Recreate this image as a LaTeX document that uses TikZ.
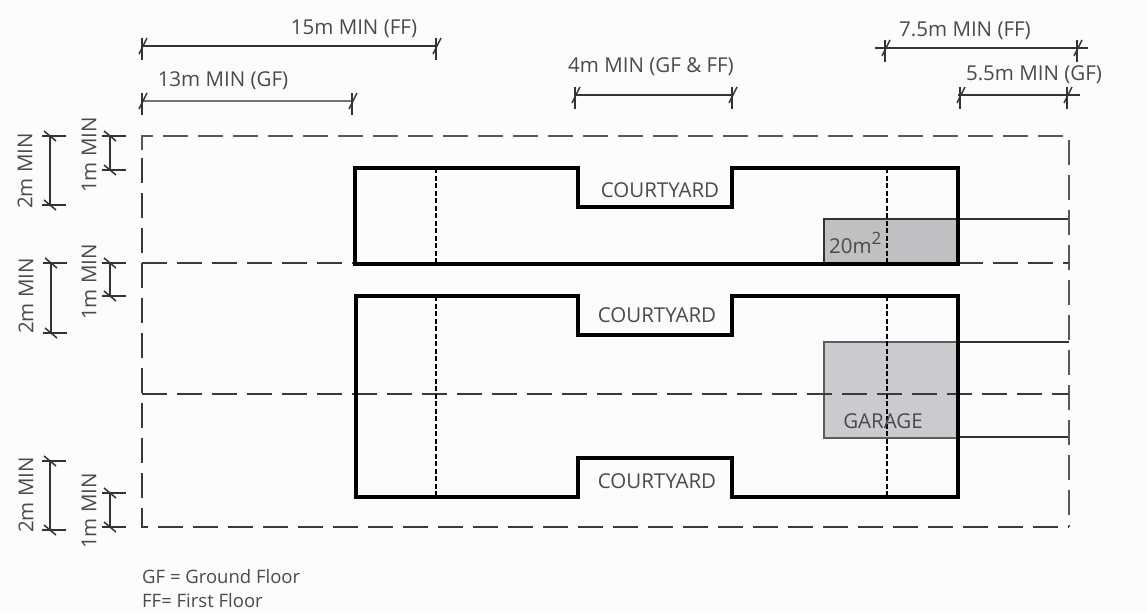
\documentclass[tikz,border=0pt]{standalone}
\usepackage{fontspec}
\setmainfont{Open Sans}
\definecolor{ink}{HTML}{333333}
\definecolor{txt}{HTML}{4A4A4A}
\definecolor{dashink}{HTML}{3A3A3A}
\definecolor{greyone}{HTML}{C0BFC1}
\definecolor{greytwo}{HTML}{CBCBCF}
\tikzset{
  x=1pt,y=-1pt,
  wall/.style={line width=4.4pt,black,line join=miter},
  bound/.style={line width=2pt,draw=dashink,dash pattern=on 25pt off 10pt},
  boundup/.style={bound,draw=dashink!85!white},
  grid/.style={line width=1.3pt,black,dash pattern=on 5pt off 2.5pt},
  setback/.style={line width=1.5pt,ink},
  dimline/.style={line width=1.5pt,ink},
  lab/.style={text=txt,font=\fontsize{20.5}{22}\selectfont,inner sep=0pt},
  legend/.style={text=txt,font=\fontsize{18.5}{20}\selectfont,inner sep=0pt,anchor=west},
}
\newcommand{\htick}[2]{%
  \draw[dimline] (#1-2,#2-8) -- (#1-2,#2+14);
  \draw[dimline] (#1-5,#2+8) -- (#1+3,#2-8);
}
\newcommand{\vtick}[2]{%
  \draw[dimline] (#1-8,#2) -- (#1+16,#2);
  \draw[dimline] (#1-6,#2-5) -- (#1+6,#2+5);
}
\begin{document}
\begin{tikzpicture}
\useasboundingbox (0,0) rectangle (1147,614);
\fill[white!99!black] (0,0) rectangle (1147,614);

% grey areas
\fill[greyone] (824,219) rectangle (958,264);
\fill[greytwo] (824,342) rectangle (958,438);
\draw[setback] (824,264) -- (824,219) -- (1069,219);
\draw[setback,draw=ink!80] (958,342) -- (824,342) -- (824,438) -- (958,438);
\draw[setback] (958,342) -- (1069,342);
\draw[setback] (958,437) -- (1069,437);

% boundary dashed lines
\draw[boundup] (142,150) -- (142,136) -- (1069,136) -- (1069,527);
\draw[bound] (142,158) -- (142,527) -- (1069,527);
\draw[bound] (142,263) -- (355,263);
\draw[bound] (958,263) -- (1069,263);
\draw[bound] (142,394) -- (1069,394);

% grid lines
\draw[grid] (436,168) -- (436,264);
\draw[grid] (887,168) -- (887,264);
\draw[grid] (436,296) -- (436,497);
\draw[grid] (887,296) -- (887,497);

% buildings
\draw[wall] (355,168) -- (578,168) -- (578,207) -- (732,207) -- (732,168) -- (958,168) -- (958,264) -- (355,264) -- cycle;
\draw[wall] (356,296) -- (578,296) -- (578,335) -- (732,335) -- (732,296) -- (958,296) -- (958,497) -- (732,497) -- (732,458) -- (578,458) -- (578,497) -- (356,497) -- cycle;

% horizontal dimensions
\draw[dimline] (142,46) -- (437,46); \htick{144}{46} \htick{438}{46}
\draw[line width=2.4pt,black!55] (142,101) -- (353,101); \htick{144}{101} \htick{354}{101}
\draw[dimline] (576,95) -- (733,95); \htick{577}{95} \htick{734}{95}
\draw[dimline] (875,48) -- (1088,48); \htick{887}{48} \htick{1079}{48}
\draw[dimline] (958,95) -- (1080,95); \htick{962}{95} \htick{1069}{95}

% vertical dimensions
\draw[dimline] (50,136) -- (50,205); \vtick{50}{136} \vtick{50}{205}
\draw[dimline] (110,136) -- (110,170); \vtick{110}{136} \vtick{110}{170}
\draw[dimline] (51,263) -- (51,333); \vtick{51}{263} \vtick{51}{333}
\draw[dimline] (110,263) -- (110,296); \vtick{110}{263} \vtick{110}{296}
\draw[dimline] (50,461) -- (50,530); \vtick{50}{461} \vtick{50}{530}
\draw[dimline] (110,493) -- (110,527); \vtick{110}{493} \vtick{110}{527}

% labels
\node[lab] (l15) at (354,29) {15m MIN (FF)};
\node[lab] (l13) at (223,81) {13m MIN (GF)};
\node[lab] (l4) at (651,67) {4m MIN (GF \& FF)};
\node[lab] (l75) at (965,31) {7.5m MIN (FF)};
\node[lab] (l55) at (1034,75) {5.5m MIN (GF)};
\node[lab,rotate=90] (v1) at (25,171) {2m MIN};
\node[lab,rotate=90] (v2) at (89,155) {1m MIN};
\node[lab,rotate=90] (v3) at (26,296) {2m MIN};
\node[lab,rotate=90] (v4) at (89,282) {1m MIN};
\node[lab,rotate=90] (v5) at (26,495) {2m MIN};
\node[lab,rotate=90] (v6) at (89,511) {1m MIN};
\node[lab] (c1) at (660,190) {COURTYARD};
\node[lab] (c2) at (657,315) {COURTYARD};
\node[lab] (c3) at (657,481) {COURTYARD};
\node[lab] (g) at (883,421) {GARAGE};
\node[lab,anchor=west] (a) at (829,243) {20m\raisebox{.42em}{\fontsize{17}{18}\selectfont 2}};
\node[legend] (k1) at (142,577) {GF = Ground Floor};
\node[legend] (k2) at (142,601) {FF= First Floor};
\end{tikzpicture}
\end{document}
